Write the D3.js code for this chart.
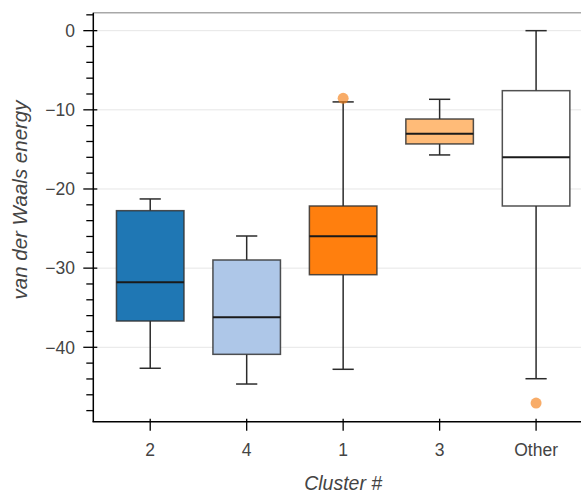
<!DOCTYPE html>
<html>
<head>
<meta charset="utf-8">
<script src="https://cdn.jsdelivr.net/npm/d3@7"></script>
<style>
  html, body { margin: 0; padding: 0; background: #fff; }
  svg { display: block; }
  text { font-family: "Liberation Sans", Arial, Helvetica, sans-serif; }
</style>
</head>
<body>
<svg id="chart" width="581" height="495"></svg>
<script>
// ---- data ----
const categories = ["2", "4", "1", "3", "Other"];
const colors = ["#1f77b4", "#aec7e8", "#ff7f0e", "#ffbb78", "#ffffff"];
const lowerWhisker = [-42.65, -44.64, -42.78, -15.7, -43.97];
const q1 = [-36.68, -40.89, -30.83, -14.31, -22.15];
const medians = [-31.79, -36.21, -25.98, -13.01, -16.0];
const q3 = [-22.74, -28.97, -22.15, -11.16, -7.58];
const upperWhisker = [-21.26, -25.94, -9.0, -8.67, 0.0];
const outlierCats = ["1", "Other"];
const outlierValues = [-8.55, -47.04];
const yMajorTicks = [0, -10, -20, -30, -40];
const yMinorTicks = [2, -2, -4, -6, -8, -12, -14, -16, -18, -22, -24, -26, -28, -32, -34, -36, -38, -42, -44, -46, -48];
const xTitle = "Cluster #";
const yTitle = "van der Waals energy";

// ---- layout ----
const svg = d3.select("#chart");
const plotLeft = 93.3, plotTop = 12.7, plotBottom = 421.7, plotRight = 593;
const textColor = "#444";

const x = d3.scalePoint().domain(categories).range([plotLeft, plotRight]).padding(0.59);
const step = x.step();
const y = d3.scaleLinear().domain([-49.4, 2.27]).range([plotBottom, plotTop]);

// grid
svg.append("g").selectAll("line").data(yMajorTicks).join("line")
  .attr("x1", plotLeft).attr("x2", 581)
  .attr("y1", d => y(d)).attr("y2", d => y(d))
  .attr("stroke", "#e6e6e6").attr("stroke-width", 1);

// top outline
svg.append("line").attr("x1", plotLeft).attr("x2", 581).attr("y1", plotTop).attr("y2", plotTop)
  .attr("stroke", "#a8a8a8").attr("stroke-width", 1.5);

// boxes
const data = categories.map((c, i) => ({
  c, color: colors[i], lo: lowerWhisker[i], q1: q1[i], med: medians[i], q3: q3[i], hi: upperWhisker[i]
}));
const boxW = step * 0.7, capW = step * 0.22;
const stroke = "#2b2b2b";
const g = svg.append("g");
data.forEach(d => {
  const cx = x(d.c);
  g.append("line").attr("x1", cx).attr("x2", cx).attr("y1", y(d.q3)).attr("y2", y(d.hi))
    .attr("stroke", stroke).attr("stroke-width", 1.5);
  g.append("line").attr("x1", cx).attr("x2", cx).attr("y1", y(d.q1)).attr("y2", y(d.lo))
    .attr("stroke", stroke).attr("stroke-width", 1.5);
  [d.hi, d.lo].forEach(v => {
    g.append("line").attr("x1", cx - capW / 2).attr("x2", cx + capW / 2).attr("y1", y(v)).attr("y2", y(v))
      .attr("stroke", stroke).attr("stroke-width", 1.5);
  });
  g.append("rect").attr("x", cx - boxW / 2).attr("width", boxW)
    .attr("y", y(d.q3)).attr("height", y(d.q1) - y(d.q3))
    .attr("fill", d.color).attr("stroke", "#333").attr("stroke-opacity", 0.85).attr("stroke-width", 1.5);
  g.append("line").attr("x1", cx - boxW / 2).attr("x2", cx + boxW / 2).attr("y1", y(d.med)).attr("y2", y(d.med))
    .attr("stroke", "#1a1a1a").attr("stroke-width", 2);
});

// outliers
svg.append("g").selectAll("circle").data(outlierValues).join("circle")
  .attr("cx", (d, i) => x(outlierCats[i])).attr("cy", d => y(d)).attr("r", 5.5)
  .attr("fill", "#f57f17").attr("fill-opacity", 0.65);

// y axis
const fmt = v => (v < 0 ? "\u2212" + Math.abs(v) : String(v));
const yAxis = svg.append("g");
yAxis.append("line").attr("x1", plotLeft).attr("x2", plotLeft).attr("y1", plotTop).attr("y2", plotBottom)
  .attr("stroke", "#000").attr("stroke-width", 1.5);
yAxis.selectAll(".minor").data(yMinorTicks).join("line").attr("class", "minor")
  .attr("x1", plotLeft - 7).attr("x2", plotLeft).attr("y1", d => y(d)).attr("y2", d => y(d))
  .attr("stroke", "#000").attr("stroke-width", 1.3);
yAxis.selectAll(".major").data(yMajorTicks).join("line").attr("class", "major")
  .attr("x1", plotLeft - 10).attr("x2", plotLeft + 4).attr("y1", d => y(d)).attr("y2", d => y(d))
  .attr("stroke", "#000").attr("stroke-width", 1.3);
yAxis.selectAll("text").data(yMajorTicks).join("text")
  .attr("x", 75).attr("y", d => y(d)).attr("dy", "0.36em")
  .attr("text-anchor", "end").attr("font-size", 17.5).attr("fill", textColor)
  .text(fmt);

// x axis
const xAxis = svg.append("g");
xAxis.append("line").attr("x1", plotLeft - 0.75).attr("x2", 581).attr("y1", plotBottom).attr("y2", plotBottom)
  .attr("stroke", "#000").attr("stroke-width", 1.5);
xAxis.selectAll(".tick").data(categories).join("line").attr("class", "tick")
  .attr("x1", d => x(d)).attr("x2", d => x(d)).attr("y1", plotBottom - 3).attr("y2", plotBottom + 9)
  .attr("stroke", "#000").attr("stroke-width", 1.3);
xAxis.selectAll("text").data(categories).join("text")
  .attr("x", d => x(d)).attr("y", 450).attr("dy", "0.36em")
  .attr("text-anchor", "middle").attr("font-size", 17.5).attr("fill", textColor)
  .text(d => d);

// titles
svg.append("text").attr("x", (plotLeft + plotRight) / 2).attr("y", 490)
  .attr("text-anchor", "middle").attr("font-size", 19.5).attr("font-style", "italic")
  .attr("fill", textColor).text(xTitle);
svg.append("text").attr("transform", `translate(19.5,200) rotate(-90)`).attr("dy", "0.36em")
  .attr("text-anchor", "middle").attr("font-size", 20.5).attr("font-style", "italic")
  .attr("fill", textColor).text(yTitle);
</script>
</body>
</html>
